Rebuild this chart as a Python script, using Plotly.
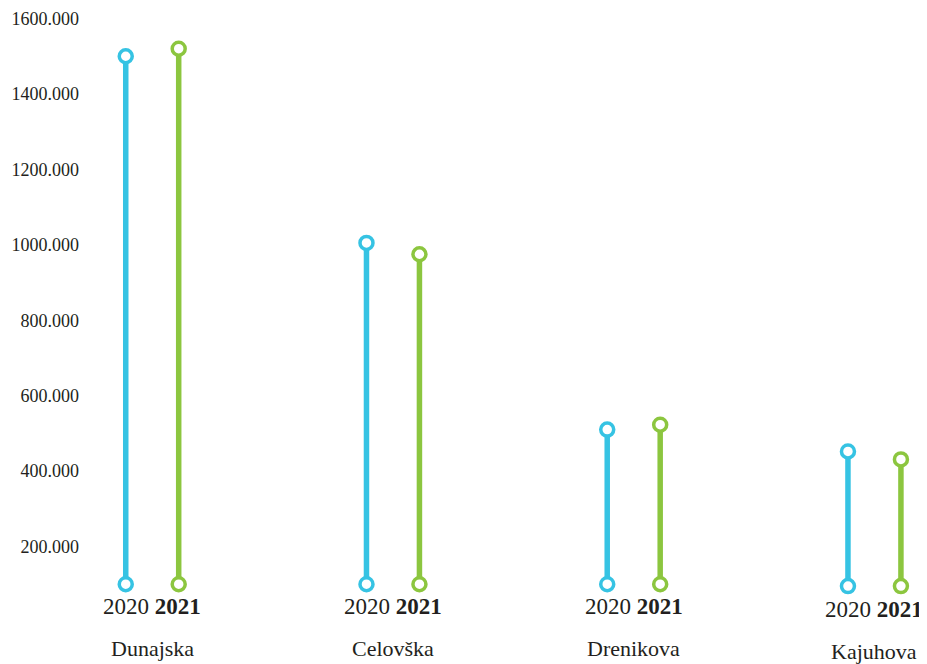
import plotly.graph_objects as go

categories = ["Dunajska", "Celovška", "Drenikova", "Kajuhova"]
years = ["2020", "2021"]
values_2020 = [1500, 1005, 510, 452]
values_2021 = [1520, 975, 523, 431]
base_2020 = [100, 100, 100, 95]
base_2021 = [100, 100, 100, 95]
tick_values = [200, 400, 600, 800, 1000, 1200, 1400, 1600]
tick_labels = ["200.000", "400.000", "600.000", "800.000", "1000.000", "1200.000", "1400.000", "1600.000"]

colors = {"2020": "#36C3E3", "2021": "#8CC63F"}
offsets = {"2020": -0.11, "2021": 0.11}
FONT = "Liberation Serif, Times New Roman, serif"
TEXT = "#231F20"

fig = go.Figure()
for yr, vals, bases in [("2020", values_2020, base_2020), ("2021", values_2021, base_2021)]:
    xs, ys = [], []
    for i, (v, b) in enumerate(zip(vals, bases)):
        xs += [i + offsets[yr], i + offsets[yr], None]
        ys += [b, v, None]
    fig.add_trace(go.Scatter(
        x=xs, y=ys, mode="lines+markers", name=yr,
        line=dict(color=colors[yr], width=5.5),
        marker=dict(size=13, color="white", line=dict(color=colors[yr], width=3.5)),
        cliponaxis=False, showlegend=False, hoverinfo="skip",
    ))

for i, cat in enumerate(categories):
    extra = -3 if cat == "Kajuhova" else 0
    fig.add_annotation(x=i, y=0, xref="x", yref="paper", yanchor="middle",
                       text="2020 <b>2021</b>", showarrow=False, yshift=-18 + extra,
                       font=dict(family=FONT, size=23, color=TEXT))
    fig.add_annotation(x=i, y=0, xref="x", yref="paper", yanchor="middle",
                       text=cat, showarrow=False, yshift=-60 + extra,
                       font=dict(family=FONT, size=22, color=TEXT))

fig.update_layout(
    width=919, height=656,
    margin=dict(l=72, r=2, t=3, b=76),
    paper_bgcolor="white", plot_bgcolor="white",
    font=dict(family=FONT, color=TEXT),
    xaxis=dict(range=[-0.3, 3.21], showgrid=False, zeroline=False, showline=False,
               showticklabels=False, ticks=""),
    yaxis=dict(range=[90, 1620], tickvals=tick_values, ticktext=tick_labels,
               showgrid=False, zeroline=False, showline=False, ticks="",
               tickfont=dict(family=FONT, size=18, color=TEXT)),
)

fig.write_html("out.html")
